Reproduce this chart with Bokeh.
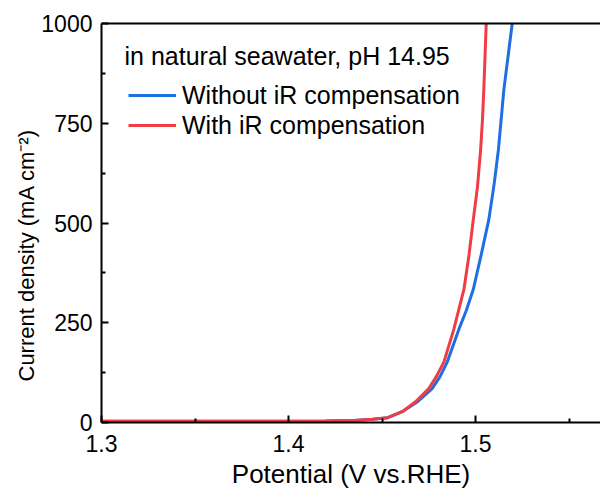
from bokeh.plotting import figure
from bokeh.models import (FixedTicker, LinearAxis, Legend, LegendItem, Label, Range1d, Title)
from bokeh.embed import file_html
from bokeh.resources import INLINE

# Data
potential_red = [1.300, 1.320, 1.340, 1.360, 1.380, 1.400, 1.420, 1.435, 1.445, 1.453,
                 1.4608, 1.4679, 1.4750, 1.4790, 1.4831, 1.4884, 1.4938, 1.4965, 1.4988,
                 1.5010, 1.5027, 1.5037, 1.5044, 1.5057]
current_red = [3, 3, 3, 3, 3, 3, 4, 5, 8, 12,
               27, 52, 85, 115, 152, 234, 334, 420, 509,
               590, 683, 760, 833, 1000]

potential_blue = [1.300, 1.320, 1.340, 1.360, 1.380, 1.400, 1.420, 1.435, 1.445, 1.453,
                  1.4608, 1.4690, 1.4768, 1.4810, 1.4849, 1.4911, 1.4950, 1.4988, 1.5030,
                  1.5071, 1.5100, 1.5122, 1.5137, 1.5151, 1.5196]
current_blue = [3, 3, 3, 3, 3, 3, 4, 5, 8, 12,
                27, 52, 85, 115, 152, 234, 280, 334, 420,
                509, 600, 683, 760, 833, 1000]

x_ticks = [1.3, 1.4, 1.5]
x_minor = [1.35, 1.45, 1.55]
x_tick_labels = ["1.3", "1.4", "1.5"]
y_ticks = [0, 250, 500, 750, 1000]
y_minor = [125, 375, 625, 875]

x_title = "Potential (V vs.RHE)"
y_title = "Current density (mA cm\u207b\u00b2)"
label_without = "Without iR compensation"
label_with = "With iR compensation"
note = "in natural seawater, pH 14.95"

FONT = "Liberation Sans"

p = figure(width=600, height=491, output_backend="svg", toolbar_location=None,
           x_range=Range1d(1.3, 1.5668), y_range=Range1d(0, 1000),
           min_border_left=101, min_border_right=0, min_border_top=23, min_border_bottom=67,
           x_axis_label=x_title)
p.outline_line_color = None
p.grid.visible = False
p.background_fill_color = "white"
p.border_fill_color = "white"

for ax in (p.xaxis[0], p.yaxis[0]):
    ax.axis_line_width = 2
    ax.axis_line_color = "black"
    ax.major_tick_in = 7
    ax.major_tick_out = 0
    ax.minor_tick_in = 4
    ax.minor_tick_out = 0
    ax.major_tick_line_width = 2
    ax.minor_tick_line_width = 2
    ax.major_label_text_font = FONT
    ax.major_label_text_font_size = "23px"
    ax.major_label_text_color = "black"
    ax.axis_label_text_font = FONT
    ax.axis_label_text_font_style = "normal"
    ax.axis_label_text_color = "black"

p.xaxis[0].axis_label_text_font_size = "26px"
p.xaxis[0].ticker = FixedTicker(ticks=x_ticks, minor_ticks=x_minor)
p.xaxis[0].major_label_overrides = {t: s for t, s in zip(x_ticks, x_tick_labels)}
p.xaxis[0].major_label_standoff = 12
p.xaxis[0].axis_label_standoff = 4
p.yaxis[0].ticker = FixedTicker(ticks=y_ticks, minor_ticks=y_minor)
p.yaxis[0].major_label_standoff = 9

top = LinearAxis(ticker=FixedTicker(ticks=[]), axis_line_width=2, axis_line_color="black",
                 major_tick_line_color=None, minor_tick_line_color=None,
                 major_label_text_font_size="0px", major_label_standoff=0)
p.add_layout(top, "above")

p.add_layout(Title(text=y_title, align="left", text_font=FONT, text_font_size="22px",
                   text_font_style="normal", text_color="black", standoff=0, offset=41),
             "left")

blue = p.line(potential_blue, current_blue, line_color="#1F6FE3", line_width=3)
red = p.line(potential_red, current_red, line_color="#F03C44", line_width=3)

legend = Legend(items=[LegendItem(label=label_without, renderers=[blue]),
                       LegendItem(label=label_with, renderers=[red])],
                location=(27, 282), orientation="vertical",
                label_text_font=FONT, label_text_font_size="25px", label_text_color="black",
                glyph_width=48, glyph_height=30, label_height=30, label_standoff=6,
                spacing=0, padding=0, margin=0,
                background_fill_alpha=0, border_line_color=None)
p.add_layout(legend)

p.add_layout(Label(x=1.3123, y=918, text=note, text_font=FONT, text_font_size="25px",
                   text_color="black", text_baseline="alphabetic"))

open("out.html", "w").write(file_html(p, INLINE))
